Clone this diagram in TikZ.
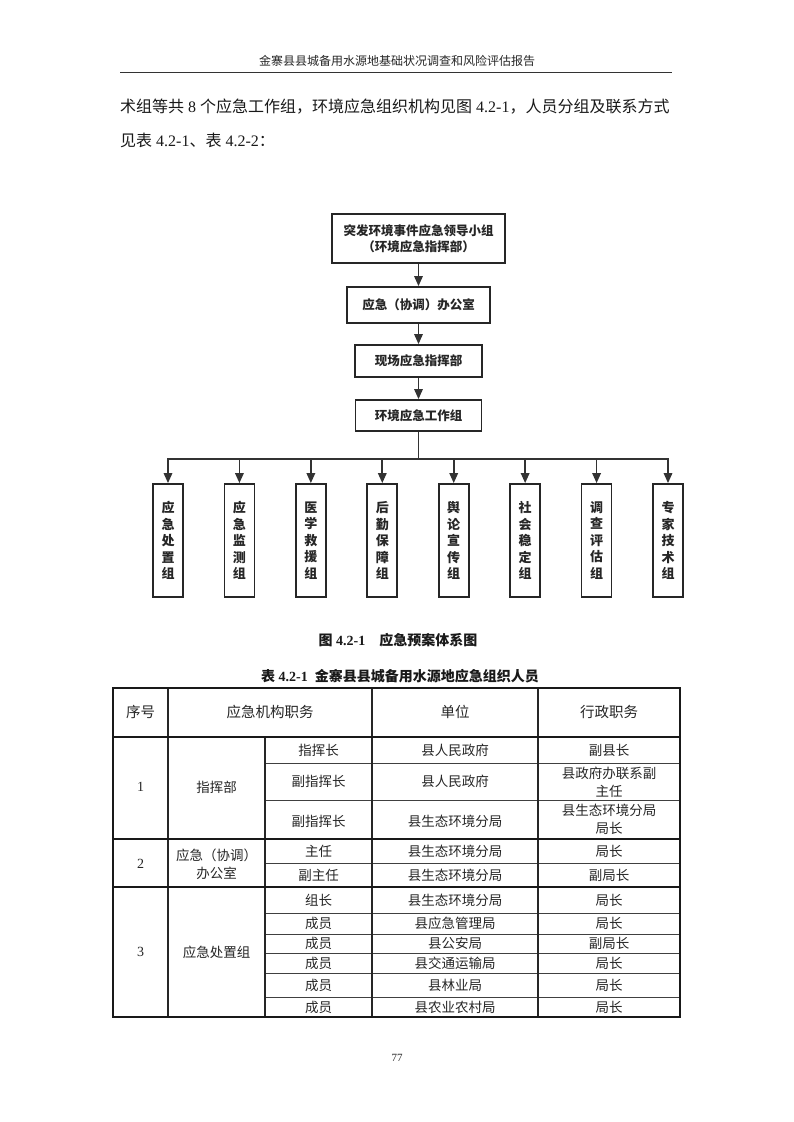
\documentclass[tikz,border=0pt]{standalone}
\usepackage{fontspec}
\setmainfont{Liberation Serif}
\newfontfamily\cjk{Noto Sans CJK SC}
\usetikzlibrary{arrows.meta}
\tikzset{
  bx/.style={draw=black!85, line width=1.8pt, fill=white, inner sep=0pt, align=center,
             font=\cjk\bfseries\fontsize{12.5}{16}\selectfont, text=black!85},
  gbx/.style={bx, minimum width=30pt, minimum height=113pt, font=\cjk\bfseries\fontsize{13}{16.5}\selectfont},
  conn/.style={draw=black!80, line width=1.6pt},
  arr/.style={conn, -{Triangle[width=8.5pt,length=10pt]}},
  cell/.style={inner sep=0pt, align=center, text=black!85, font=\cjk\fontsize{13.5}{18}\selectfont},
  hcell/.style={cell, font=\cjk\fontsize{14.5}{18}\selectfont},
  thick line/.style={draw=black!90, line width=1.6pt},
  mid line/.style={draw=black!85, line width=1.1pt},
  thin line/.style={draw=black!75, line width=0.8pt},
}
\begin{document}
\begin{tikzpicture}[x=1pt,y=-1pt]
\useasboundingbox (0,0) rectangle (793,1122);
\fill[white] (0,0) rectangle (793,1122);

% running header
\node[inner sep=0pt, text=black!85, font=\cjk\fontsize{12}{14}\selectfont] (hdr) at (397,61) {金寨县县城备用水源地基础状况调查和风险评估报告};
\coordinate (hl) at (120,72);
\coordinate (hr) at (672,72);
\draw[draw=black!80, line width=1pt] (hl) -- (hr);

% body text
\node[anchor=west, inner sep=0pt, text=black!90, font=\fontsize{16}{20}\selectfont] (l1) at (120,107)
  {{\cjk 术组等共} 8 {\cjk 个应急工作组，环境应急组织机构见图} 4.2-1{\cjk ，人员分组及联系方式}};
\node[anchor=west, inner sep=0pt, text=black!90, font=\fontsize{16}{20}\selectfont] (l2) at (120,140)
  {{\cjk 见表} 4.2-1{\cjk 、表} 4.2-2{\cjk ：}};

% diagram
\node[bx, minimum width=173pt, minimum height=49pt] (b1) at (418.5,238.5) {突发环境事件应急领导小组\\（环境应急指挥部）};
\node[bx, minimum width=143pt, minimum height=36pt] (b2) at (418.5,305) {应急（协调）办公室};
\node[bx, minimum width=127pt, minimum height=32pt] (b3) at (418.5,361) {现场应急指挥部};
\node[bx, minimum width=126pt, minimum height=31pt] (b4) at (418.5,415.5) {环境应急工作组};
\draw[arr] (b1) -- (b2);
\draw[arr] (b2) -- (b3);
\draw[arr] (b3) -- (b4);

\foreach \i/\t in {0/{应\\急\\处\\置\\组},1/{应\\急\\监\\测\\组},2/{医\\学\\救\\援\\组},3/{后\\勤\\保\\障\\组},
                   4/{舆\\论\\宣\\传\\组},5/{社\\会\\稳\\定\\组},6/{调\\查\\评\\估\\组},7/{专\\家\\技\\术\\组}}{
  \node[gbx] (g\i) at ({168+71.43*\i},540.5) {\t};
}
\coordinate (bc) at (418.5,459);
\draw[conn] (b4.south) -- (bc);
\foreach \i in {0,...,7}{
  \draw[arr] (bc) -| (g\i.north);
}

% caption
\node[inner sep=0pt, text=black!90, font=\bfseries\fontsize{14}{16}\selectfont] (cap) at (398,640)
  {{\cjk 图} 4.2-1\quad{\cjk 应急预案体系图}};
\node[inner sep=0pt, text=black!90, font=\bfseries\fontsize{14}{16}\selectfont] (tcap) at (400,676)
  {{\cjk 表} 4.2-1\enspace{\cjk 金寨县县城备用水源地应急组织人员}};

% table lines
\draw[thin line] (265,763) -- (680,763);
\draw[thin line] (265,800) -- (680,800);
\draw[thin line] (265,863) -- (680,863);
\draw[thin line] (265,913) -- (680,913);
\draw[thin line] (265,934) -- (680,934);
\draw[thin line] (265,953) -- (680,953);
\draw[thin line] (265,973) -- (680,973);
\draw[thin line] (265,997) -- (680,997);
\draw[mid line] (168,688) -- (168,1017);
\draw[mid line] (265,737) -- (265,1017);
\draw[mid line] (372,688) -- (372,1017);
\draw[mid line] (538,688) -- (538,1017);
\draw[thick line] (113,737) -- (680,737);
\draw[thick line] (113,839) -- (680,839);
\draw[thick line] (113,887) -- (680,887);
\draw[thick line] (113,688) rectangle (680,1017);

% header row
\node[hcell] (h1) at (140.5,712) {序号};
\node[hcell] (h2) at (270,712) {应急机构职务};
\node[hcell] (h3) at (455,712) {单位};
\node[hcell] (h4) at (609,712) {行政职务};

% group 1
\node[cell, font=\fontsize{14}{18}\selectfont] (n1) at (140.5,787) {1};
\node[cell] (o1) at (216.5,787) {指挥部};
\node[cell] (r1a) at (318.5,750) {指挥长};
\node[cell] (r1b) at (455,750) {县人民政府};
\node[cell] (r1c) at (609,750) {副县长};
\node[cell] (r2a) at (318.5,781.5) {副指挥长};
\node[cell] (r2b) at (455,781.5) {县人民政府};
\node[cell] (r2c) at (609,782) {县政府办联系副\\主任};
\node[cell] (r3a) at (318.5,821) {副指挥长};
\node[cell] (r3b) at (455,821) {县生态环境分局};
\node[cell] (r3c) at (609,819.5) {县生态环境分局\\局长};

% group 2
\node[cell, font=\fontsize{14}{18}\selectfont] (n2) at (140.5,864) {2};
\node[cell] (o2) at (216.5,864) {应急（协调）\\办公室};
\node[cell] (r4a) at (318.5,851) {主任};
\node[cell] (r4b) at (455,851) {县生态环境分局};
\node[cell] (r4c) at (609,851) {局长};
\node[cell] (r5a) at (318.5,875) {副主任};
\node[cell] (r5b) at (455,875) {县生态环境分局};
\node[cell] (r5c) at (609,875) {副局长};

% group 3
\node[cell, font=\fontsize{14}{18}\selectfont] (n3) at (140.5,952) {3};
\node[cell] (o3) at (216.5,952) {应急处置组};
\node[cell] (r6a) at (318.5,900) {组长};
\node[cell] (r6b) at (455,900) {县生态环境分局};
\node[cell] (r6c) at (609,900) {局长};
\node[cell] (r7a) at (318.5,923.5) {成员};
\node[cell] (r7b) at (455,923.5) {县应急管理局};
\node[cell] (r7c) at (609,923.5) {局长};
\node[cell] (r8a) at (318.5,943.5) {成员};
\node[cell] (r8b) at (455,943.5) {县公安局};
\node[cell] (r8c) at (609,943.5) {副局长};
\node[cell] (r9a) at (318.5,963) {成员};
\node[cell] (r9b) at (455,963) {县交通运输局};
\node[cell] (r9c) at (609,963) {局长};
\node[cell] (r10a) at (318.5,985) {成员};
\node[cell] (r10b) at (455,985) {县林业局};
\node[cell] (r10c) at (609,985) {局长};
\node[cell] (r11a) at (318.5,1007) {成员};
\node[cell] (r11b) at (455,1007) {县农业农村局};
\node[cell] (r11c) at (609,1007) {局长};

% page number
\node[inner sep=0pt, text=black!85, font=\fontsize{11}{13}\selectfont] (pg) at (397,1058) {77};
\end{tikzpicture}
\end{document}
